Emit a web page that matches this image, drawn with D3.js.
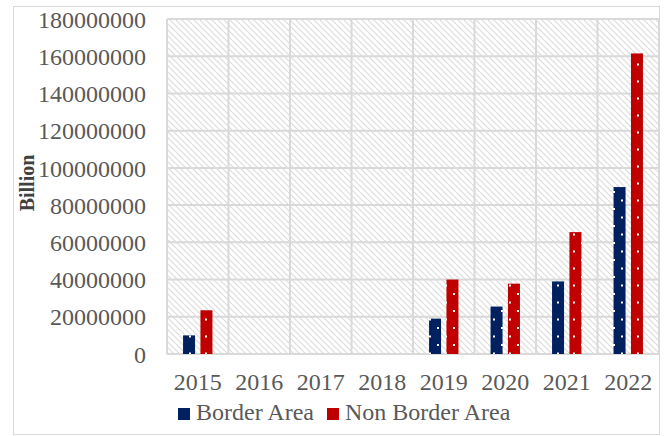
<!DOCTYPE html>
<html><head><meta charset="utf-8">
<script src="https://cdn.jsdelivr.net/npm/d3@7"></script>
<style>body{margin:0;background:#fff}svg{display:block}</style>
</head><body>
<svg id="chart" width="665" height="436"></svg>
<script>
const years = ["2015","2016","2017","2018","2019","2020","2021","2022"];
const seriesNames = ["Border Area","Non Border Area"];
const borderArea = [10000000, 0, 0, 0, 19000000, 25500000, 39000000, 89700000];
const nonBorderArea = [23500000, 0, 0, 0, 40000000, 37800000, 65500000, 161500000];
const yTicks = [0,20000000,40000000,60000000,80000000,100000000,120000000,140000000,160000000,180000000];
const colors = ["#002060","#C00000"];

const svg = d3.select("#chart");
const font = "'Liberation Serif','Times New Roman',serif";
const txt = "#595959";
const m = {left:167, top:19, right:659, bottom:354};

svg.append("rect").attr("x",13.5).attr("y",6.5).attr("width",646).attr("height",428)
  .attr("fill","#fff").attr("stroke","#d9d9d9").attr("stroke-width",1);

const defs = svg.append("defs");
const hatch = defs.append("pattern").attr("id","hatch").attr("patternUnits","userSpaceOnUse")
  .attr("width",6).attr("height",6);
hatch.append("rect").attr("width",6).attr("height",6).attr("fill","#fff");
hatch.append("path").attr("d","M-1,-1 L7,7 M-1,5 L1,7 M5,-1 L7,1").attr("stroke","#dcdcdc").attr("stroke-width",1.2);

colors.forEach((c,i)=>{
  const p = defs.append("pattern").attr("id","dots"+i).attr("patternUnits","userSpaceOnUse")
    .attr("width",16).attr("height",17);
  p.append("rect").attr("width",16).attr("height",17).attr("fill",c);
  p.append("rect").attr("x",5).attr("y",4).attr("width",2).attr("height",2).attr("fill","#fff");
  p.append("rect").attr("x",13).attr("y",12.5).attr("width",2).attr("height",2).attr("fill","#fff");
});

const x = d3.scaleBand().domain(years).range([m.left, m.right]).padding(0);
const y = d3.scaleLinear().domain([0,180000000]).range([m.bottom, m.top]);
const groupW = 29.4;
const x1 = d3.scaleBand().domain(seriesNames).range([0,groupW]).paddingInner(0.31).paddingOuter(0);

svg.append("rect").attr("x",m.left).attr("y",m.top).attr("width",m.right-m.left).attr("height",m.bottom-m.top)
  .attr("fill","url(#hatch)");

svg.append("g").selectAll("line").data(yTicks).join("line")
  .attr("x1",m.left).attr("x2",m.right).attr("y1",d=>y(d)).attr("y2",d=>y(d))
  .attr("stroke","#d9d9d9").attr("stroke-width",2);
const vx = years.map(d=>x(d)).concat([m.right]);
svg.append("g").selectAll("line").data(vx).join("line")
  .attr("x1",d=>d).attr("x2",d=>d).attr("y1",m.top).attr("y2",m.bottom)
  .attr("stroke","#d9d9d9").attr("stroke-width",2);

const data = [borderArea, nonBorderArea];
seriesNames.forEach((s,i)=>{
  svg.append("g").selectAll("rect").data(years).join("rect")
    .attr("x",(d)=>x(d)+(x.bandwidth()-groupW)/2+x1(s))
    .attr("y",(d,j)=>y(data[i][j]))
    .attr("width",x1.bandwidth())
    .attr("height",(d,j)=>y(0)-y(data[i][j]))
    .attr("fill","url(#dots"+i+")");
});

const yAxis = d3.axisLeft(y).tickValues(yTicks).tickFormat(d3.format("d")).tickSize(0).tickPadding(0);
const gy = svg.append("g").attr("transform","translate(146,0)").call(yAxis);
gy.select(".domain").remove();
gy.selectAll("text").attr("font-family",font).attr("font-size",24).attr("fill",txt).attr("dy","0.34em");

const xAxis = d3.axisBottom(x).tickSize(0).tickPadding(0);
const gx = svg.append("g").attr("transform","translate(0,373)").call(xAxis);
gx.select(".domain").remove();
gx.selectAll("text").attr("font-family",font).attr("font-size",24).attr("fill",txt).attr("dy","0.71em");

svg.append("text").attr("transform","translate(34,183) rotate(-90)")
  .attr("text-anchor","middle").attr("font-family",font).attr("font-size",20)
  .attr("font-weight","bold").attr("fill","#404040").text("Billion");

const legX = [178, 327];
seriesNames.forEach((s,i)=>{
  svg.append("rect").attr("x",legX[i]).attr("y",408).attr("width",12).attr("height",12).attr("fill",colors[i]);
  svg.append("text").attr("x",legX[i]+18).attr("y",420).attr("font-family",font).attr("font-size",24)
    .attr("fill",txt).text(s);
});
</script>
</body></html>
